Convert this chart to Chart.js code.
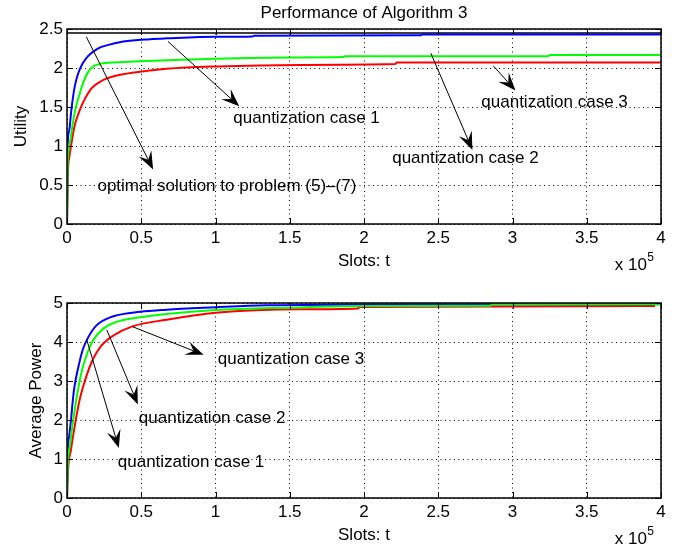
<!DOCTYPE html>
<html>
<head>
<meta charset="utf-8">
<script src="https://cdn.jsdelivr.net/npm/chart.js@4.4.0/dist/chart.umd.min.js"></script>
<style>
  body { margin: 0; background: #fff; }
  canvas { display: block; }
</style>
</head>
<body>
<canvas id="utilityChart" width="686" height="274"></canvas>
<canvas id="powerChart" width="686" height="274"></canvas>
<script>
// x is in units of 10^5 slots
var xTicks = [0, 0.5, 1, 1.5, 2, 2.5, 3, 3.5, 4];
var utilityTicks = [0, 0.5, 1, 1.5, 2, 2.5];
var powerTicks = [0, 1, 2, 3, 4, 5];

// [t, utility]
var utilityCase1 = [[0, 0], [0.004, 0.98], [0.015, 1.2], [0.027, 1.42], [0.04, 1.62], [0.054, 1.78], [0.075, 1.93],
    [0.106, 2.06], [0.14, 2.15], [0.177, 2.21], [0.22, 2.26], [0.267, 2.29], [0.38, 2.34], [0.56, 2.37], [0.67, 2.38],
    [1.0, 2.40], [1.25, 2.405], [1.26, 2.415], [2.38, 2.42], [2.39, 2.43], [4, 2.43]];
var utilityCase2 = [[0, 0], [0.004, 0.75], [0.02, 1.05], [0.04, 1.3], [0.06, 1.5], [0.087, 1.68], [0.11, 1.82],
    [0.143, 1.95], [0.177, 2.02], [0.24, 2.06], [0.3, 2.07], [0.67, 2.10], [1.0, 2.12], [1.5, 2.135], [1.86, 2.14],
    [1.87, 2.15], [3.24, 2.15], [3.25, 2.167], [4, 2.167]];
var utilityCase3 = [[0, 0], [0.006, 0.65], [0.015, 0.85], [0.027, 1.0], [0.05, 1.25], [0.08, 1.43], [0.106, 1.55],
    [0.14, 1.67], [0.17, 1.75], [0.22, 1.82], [0.26, 1.86], [0.35, 1.91], [0.44, 1.94], [0.67, 1.99], [1.0, 2.02],
    [1.57, 2.04], [2.21, 2.05], [2.22, 2.07], [4, 2.07]];
var utilityOptimal = [[0, 2.45], [4, 2.45]];

// [t, average power]
var powerCase1 = [[0, 0], [0.004, 1.1], [0.015, 1.6], [0.027, 2.0], [0.039, 2.5], [0.05, 2.85], [0.073, 3.3],
    [0.106, 3.8], [0.14, 4.1], [0.197, 4.42], [0.29, 4.63], [0.44, 4.75], [0.67, 4.83], [1.0, 4.89], [1.34, 4.94],
    [2.0, 4.96], [2.85, 4.97], [4, 4.97]];
var powerCase2 = [[0, 0], [0.004, 0.75], [0.02, 1.35], [0.04, 1.95], [0.062, 2.5], [0.096, 3.2], [0.13, 3.64],
    [0.174, 4.03], [0.24, 4.33], [0.33, 4.51], [0.466, 4.62], [0.67, 4.72], [1.0, 4.82], [1.5, 4.88], [2.0, 4.92],
    [2.85, 4.93], [2.86, 4.97], [4, 4.97]];
var powerCase3 = [[0, 0], [0.006, 0.65], [0.027, 1.25], [0.05, 1.8], [0.084, 2.5], [0.13, 3.12], [0.174, 3.55],
    [0.23, 3.9], [0.31, 4.16], [0.44, 4.4], [0.67, 4.57], [1.0, 4.75], [1.57, 4.84], [1.96, 4.86], [1.97, 4.9],
    [3.96, 4.92]];

// text + arrow annotations, in data coordinates
var utilityNotes = [
    { text: 'optimal solution to problem (5)\u2013(7)', from: [0.13, 2.40], to: [0.58, 0.70], at: [0.205, 0.48] },
    { text: 'quantization case 1', from: [0.68, 2.34], to: [1.16, 1.51], at: [1.12, 1.355] },
    { text: 'quantization case 2', from: [2.45, 2.19], to: [2.73, 0.95], at: [2.19, 0.84] },
    { text: 'quantization case 3', from: [2.87, 2.03], to: [3.02, 1.71], at: [2.79, 1.555] }
];
var powerNotes = [
    { text: 'quantization case 3', from: [0.443, 4.39], to: [0.92, 3.67], at: [1.015, 3.55] },
    { text: 'quantization case 2', from: [0.268, 4.31], to: [0.477, 2.40], at: [0.484, 2.04] },
    { text: 'quantization case 1', from: [0.133, 4.06], to: [0.349, 1.28], at: [0.342, 0.92] }
];

var FONT = '17px "Liberation Sans", Arial, sans-serif';
Chart.defaults.font.family = '"Liberation Sans", Arial, sans-serif';
Chart.defaults.font.size = 17;
Chart.defaults.color = '#000';

function toPoints(pairs) {
    return pairs.map(function (p) { return { x: p[0], y: p[1] }; });
}

function drawArrow(ctx, x0, y0, x1, y1) {
    var dx = x1 - x0, dy = y1 - y0;
    var len = Math.sqrt(dx * dx + dy * dy);
    var ux = dx / len, uy = dy / len;
    var nx = -uy, ny = ux;
    var L = 18, W = 7;
    var bx = x1 - ux * L, by = y1 - uy * L;
    var mx = x1 - ux * L * 0.6, my = y1 - uy * L * 0.6;

    ctx.beginPath();
    ctx.moveTo(x0, y0);
    ctx.lineTo(mx, my);
    ctx.lineWidth = 1;
    ctx.stroke();

    ctx.beginPath();
    ctx.moveTo(x1, y1);
    ctx.lineTo(bx + nx * W, by + ny * W);
    ctx.lineTo(mx, my);
    ctx.lineTo(bx - nx * W, by - ny * W);
    ctx.closePath();
    ctx.fill();
}

function makeAxesPlugin(title, notes) {
    return {
        id: 'matlabAxes',
        afterDatasetsDraw: function (chart) {
            var ctx = chart.ctx;
            var area = chart.chartArea;
            var xs = chart.scales.x, ys = chart.scales.y;
            ctx.save();
            ctx.strokeStyle = '#000';
            ctx.fillStyle = '#000';

            // inward ticks on all four sides
            ctx.lineWidth = 1;
            ctx.beginPath();
            xs.ticks.forEach(function (t) {
                var px = Math.round(xs.getPixelForValue(t.value)) + 0.5;
                ctx.moveTo(px, area.bottom);
                ctx.lineTo(px, area.bottom - 6);
                ctx.moveTo(px, area.top);
                ctx.lineTo(px, area.top + 6);
            });
            ys.ticks.forEach(function (t) {
                var py = Math.round(ys.getPixelForValue(t.value)) + 0.5;
                ctx.moveTo(area.left, py);
                ctx.lineTo(area.left + 6, py);
                ctx.moveTo(area.right, py);
                ctx.lineTo(area.right - 6, py);
            });
            ctx.stroke();

            ctx.lineWidth = 1.5;
            ctx.strokeRect(area.left, area.top, area.right - area.left, area.bottom - area.top);

            // annotations
            ctx.font = FONT;
            ctx.textBaseline = 'middle';
            ctx.textAlign = 'left';
            notes.forEach(function (n) {
                drawArrow(ctx,
                    xs.getPixelForValue(n.from[0]), ys.getPixelForValue(n.from[1]),
                    xs.getPixelForValue(n.to[0]), ys.getPixelForValue(n.to[1]));
                ctx.fillText(n.text, xs.getPixelForValue(n.at[0]), ys.getPixelForValue(n.at[1]));
            });

            if (title) {
                ctx.textAlign = 'center';
                ctx.fillText(title, (area.left + area.right) / 2, 13);
            }

            // x 10^5 multiplier
            ctx.textAlign = 'right';
            ctx.font = '12px "Liberation Sans", Arial, sans-serif';
            ctx.fillText('5', area.right - 7, area.bottom + 34);
            ctx.font = FONT;
            ctx.fillText('x 10', area.right - 14, area.bottom + 41);
            ctx.restore();
        }
    };
}

function makeChart(id, series, yTicks, yMax, yLabel, yTitlePad, title, notes) {
    var ctx = document.getElementById(id).getContext('2d');
    var colors = ['#00ff00', '#0000ff', '#ff0000', '#000000'];
    var datasets = series.map(function (s, i) {
        return {
            data: toPoints(s),
            borderColor: colors[i],
            borderWidth: i === 3 ? 1.5 : 2,
            pointRadius: 0,
            fill: false,
            cubicInterpolationMode: 'monotone'
        };
    });

    return new Chart(ctx, {
        type: 'line',
        data: { datasets: datasets },
        plugins: [makeAxesPlugin(title, notes)],
        options: {
            responsive: false,
            devicePixelRatio: 1,
            animation: false,
            layout: { padding: { left: 0, right: 25, top: 29, bottom: 0 } },
            plugins: { legend: { display: false }, tooltip: { enabled: false } },
            scales: {
                x: {
                    type: 'linear',
                    min: 0,
                    max: 4,
                    afterBuildTicks: function (scale) {
                        scale.ticks = xTicks.map(function (v) { return { value: v }; });
                    },
                    afterFit: function (scale) { scale.height = 50; },
                    ticks: {
                        padding: 6,
                        maxRotation: 0,
                        font: { lineHeight: 1 },
                        callback: function (v) { return String(v); }
                    },
                    grid: { color: '#000', lineWidth: 1, drawTicks: false },
                    border: { display: false, dash: [1, 3.5] },
                    title: {
                        display: true,
                        text: 'Slots: t',
                        font: { lineHeight: 1 },
                        padding: { top: 0, bottom: 4 }
                    }
                },
                y: {
                    min: 0,
                    max: yMax,
                    afterBuildTicks: function (scale) {
                        scale.ticks = yTicks.map(function (v) { return { value: v }; });
                    },
                    afterFit: function (scale) { scale.width = 67; },
                    ticks: {
                        padding: 4,
                        font: { lineHeight: 1 },
                        callback: function (v) { return String(v); }
                    },
                    grid: { color: '#000', lineWidth: 1, drawTicks: false },
                    border: { display: false, dash: [1, 3.5] },
                    title: {
                        display: true,
                        text: yLabel,
                        font: { lineHeight: 1 },
                        padding: { top: yTitlePad, bottom: 0 }
                    }
                }
            }
        }
    });
}

makeChart('utilityChart', [utilityCase2, utilityCase1, utilityCase3, utilityOptimal],
    utilityTicks, 2.5, 'Utility', 13, 'Performance of Algorithm 3', utilityNotes);
makeChart('powerChart', [powerCase2, powerCase1, powerCase3],
    powerTicks, 5, 'Average Power', 28, null, powerNotes);
</script>
</body>
</html>
